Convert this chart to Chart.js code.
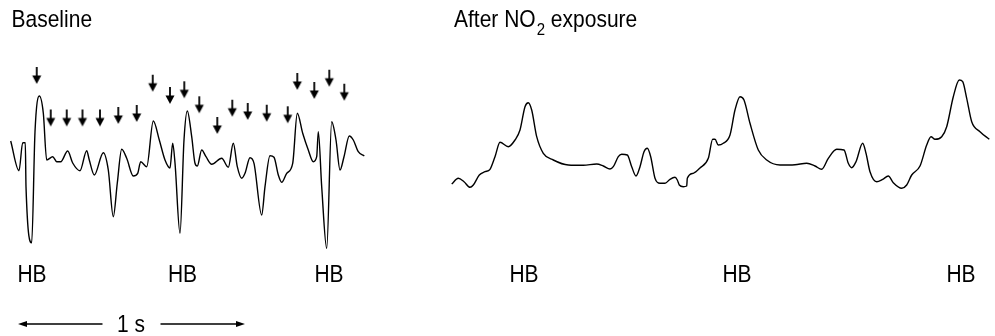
<!DOCTYPE html>
<html>
<head>
<meta charset="utf-8">
<script src="https://cdn.jsdelivr.net/npm/chart.js@4/dist/chart.umd.min.js"></script>
<style>
  html, body { margin: 0; padding: 0; background: #fff; }
  #wrap { width: 995px; height: 336px; }
</style>
</head>
<body>
<div id="wrap"><canvas id="c" width="995" height="336"></canvas></div>
<script>
// ---- Data (time axis in sample units, signal value) ----
const baselineT = [10.7,19,22.7,25.3,26,31.7,35,39.3,43.3,46.7,52.7,56.7,60.7,67.7,72.7,80,86.7,89.3,94.3,103.3,108.3,113.3,117.3,121.7,126.7,133.3,137.7,140.7,146.7,153.3,159.3,165,170,172.7,175,180,184,187.3,191.7,195,197.3,201.7,206,211.7,221.7,228.3,233.3,237.3,241.7,245,250,254,261.7,265,270,274,278.3,281.7,286.7,292.7,297.3,302.7,308.3,313.3,316.7,318.3,321.7,326.7,331.7,336,340,344,349.3,353.3,358.3,364.3];
const baselineV = [141,170.7,142.7,142.7,186.7,242.7,131.7,96,113,160,156.7,161.7,161.7,151,163,170.7,150.7,160,175,152.7,170,216.7,183,149.3,158.3,176,173.3,161.7,166.7,121,140,160,168,143.3,163,233.3,140,111,136.7,163.3,166,150,156.7,164.3,158.3,167.3,143.3,166.7,178.3,173.3,157.7,163.3,215,186.7,155.7,157.3,175,182.3,173.3,163.3,113.3,133.3,150,161.7,156.7,131.7,186.7,248.3,121.7,140,170,156.7,136,140,151.7,156];

const no2T = [451.7,458.3,464,470,473.3,479.3,485,490,495,500,508.3,515,520,525,528.3,531.7,536.7,543.3,553.3,568.3,583.3,596.7,603.3,610,613.3,618.3,621.7,627.3,631.7,636,640,644,647.3,650.7,655,660,665,670,675,677.3,679.3,683.3,686.7,687.3,693.3,700,708.3,712.7,715,718.3,723.3,730,735,740,744,750,758.3,766.7,780,795,806.7,815,821.7,828.3,836.7,844,848.3,851.7,856,862.7,866,870,876.7,882.7,888.3,893.3,901.7,906.7,911.7,920,926.7,931,935,941.7,946.7,953.3,959.3,962.7,966.7,971.7,980,989.3];
const no2V = [184,178.3,181.7,187.3,185,175,171.7,169.3,156.7,142.3,146.7,140,130,106.7,102.7,110,136.7,153.3,160,165,165.3,164,166,169,166.7,156.7,154.3,155,166.7,176,166.7,151.7,148.3,156.7,178.3,183.3,183.3,179.3,177.3,180,185,186.7,186,178.3,173.3,168,158.3,139.3,139.3,145,143.3,135,110,96.7,100,123.3,150,160,165,164.7,163.3,166,169.3,158.3,149.3,150,163.3,167.7,161.7,143.3,153.3,171.7,181.7,179.3,176,182.7,188.3,185,175,166,145,136.7,139.3,136.7,126.7,96.7,80,81.7,98.3,121.7,131.7,139.3];

// arrow markers (tip positions)
const arrowT = [36.7,50.7,66.7,82.5,100,118.3,136.7,152.7,170,184.3,199.3,217.3,232.3,247.7,266.7,287.7,297.3,314.3,329.3,344.3];
const arrowV = [84,126.5,126.5,126.5,126.5,124,122,91.7,104,98.3,113.3,134,116.7,120,121.7,123.3,90,99,86.7,100.7];

// labels
const hbLeftT = [32, 182.5, 329];
const hbRightT = [524, 737, 961];
const hbLabel = 'HB';
const titleLeft = 'Baseline';
const titleRightParts = ['After NO', '2', ' exposure'];
const titleLeftT = 11.5;
const titleRightT = 454;
const scaleBarT = [18, 245];
const scaleBarLabel = '1 s';

function toPts(t, v) { return t.map((x, i) => ({ x: x, y: v[i] })); }

function makeArrow() {
  const c = document.createElement('canvas');
  c.width = 12; c.height = 36;
  const g = c.getContext('2d');
  g.fillStyle = '#000';
  g.fillRect(5.1, 1, 1.8, 9);
  g.beginPath();
  g.moveTo(1.5, 9.5);
  g.lineTo(10.5, 9.5);
  g.lineTo(6, 18);
  g.closePath();
  g.fill();
  return c;
}

const FONT = '21px "Liberation Sans", Arial, sans-serif';
const VSTRETCH = 1.13;

function stretchedText(ctx, txt, x, y, font) {
  ctx.save();
  ctx.font = font || FONT;
  ctx.translate(x, y);
  ctx.scale(1, VSTRETCH);
  ctx.fillText(txt, 0, 0);
  ctx.restore();
}

const labelsPlugin = {
  id: 'labels',
  afterDraw(chart) {
    const ctx = chart.ctx;
    const xs = chart.scales.x;
    ctx.save();
    ctx.fillStyle = '#000';
    ctx.textBaseline = 'alphabetic';
    // titles
    ctx.textAlign = 'left';
    stretchedText(ctx, titleLeft, xs.getPixelForValue(titleLeftT), 27);
    let x = xs.getPixelForValue(titleRightT);
    ctx.font = FONT;
    stretchedText(ctx, titleRightParts[0], x, 27);
    x += ctx.measureText(titleRightParts[0]).width + 1;
    const subFont = '15px "Liberation Sans", Arial, sans-serif';
    stretchedText(ctx, titleRightParts[1], x, 35, subFont);
    ctx.font = subFont;
    x += ctx.measureText(titleRightParts[1]).width;
    ctx.font = FONT;
    stretchedText(ctx, titleRightParts[2], x, 27);
    // HB labels
    ctx.textAlign = 'center';
    hbLeftT.concat(hbRightT).forEach(t => {
      stretchedText(ctx, hbLabel, xs.getPixelForValue(t), 281.5);
    });
    // scale bar
    const x0 = xs.getPixelForValue(scaleBarT[0]);
    const x1 = xs.getPixelForValue(scaleBarT[1]);
    const xm = (x0 + x1) / 2;
    const yb = 324;
    ctx.font = FONT;
    const tw = ctx.measureText(scaleBarLabel).width;
    stretchedText(ctx, scaleBarLabel, xm - 0.5, 331.5);
    ctx.strokeStyle = '#000';
    ctx.lineWidth = 1.3;
    ctx.beginPath();
    ctx.moveTo(x0 + 6, yb); ctx.lineTo(xm - tw / 2 - 15, yb);
    ctx.moveTo(xm + tw / 2 + 15, yb); ctx.lineTo(x1 - 6, yb);
    ctx.stroke();
    ctx.beginPath();
    ctx.moveTo(x0, yb); ctx.lineTo(x0 + 9, yb - 3); ctx.lineTo(x0 + 9, yb + 3); ctx.closePath();
    ctx.moveTo(x1, yb); ctx.lineTo(x1 - 9, yb - 3); ctx.lineTo(x1 - 9, yb + 3); ctx.closePath();
    ctx.fill();
    ctx.restore();
  }
};

const lineStyle = {
  borderColor: '#000',
  borderWidth: 1.4,
  pointRadius: 0,
  fill: false,
  cubicInterpolationMode: 'monotone',
  showLine: true
};

new Chart(document.getElementById('c'), {
  type: 'scatter',
  data: {
    datasets: [
      Object.assign({ label: 'Baseline', data: toPts(baselineT, baselineV) }, lineStyle),
      Object.assign({ label: 'After NO2 exposure', data: toPts(no2T, no2V) }, lineStyle),
      {
        label: 'arrows',
        data: toPts(arrowT, arrowV),
        showLine: false,
        pointStyle: makeArrow(),
        pointRadius: 6,
        pointHoverRadius: 6
      }
    ]
  },
  options: {
    responsive: false,
    animation: false,
    events: [],
    layout: { padding: 0, autoPadding: false },
    plugins: { legend: { display: false }, tooltip: { enabled: false } },
    scales: {
      x: { type: 'linear', min: 0, max: 995, display: false },
      y: { type: 'linear', min: 0, max: 336, reverse: true, display: false }
    }
  },
  plugins: [labelsPlugin]
});
</script>
</body>
</html>
